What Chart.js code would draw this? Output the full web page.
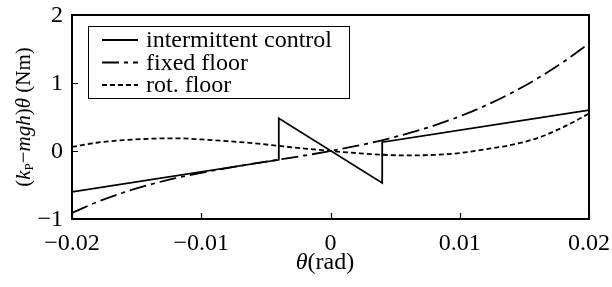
<!DOCTYPE html>
<html>
<head>
<meta charset="utf-8">
<script src="https://cdn.jsdelivr.net/npm/chart.js@4.4.1/dist/chart.umd.min.js"></script>
<style>
  html, body { margin: 0; padding: 0; background: #fff; }
  #wrap { width: 612px; height: 287px; }
</style>
</head>
<body>
<div id="wrap"><canvas id="chart" width="612" height="287"></canvas></div>
<script>
// values
const thetaGrid = [-0.020, -0.018, -0.016, -0.014, -0.012, -0.010, -0.008, -0.006, -0.004, -0.002,
  0, 0.002, 0.004, 0.006, 0.008, 0.010, 0.012, 0.014, 0.016, 0.018, 0.020];
const fixedFloor = [-0.91, -0.746, -0.609, -0.495, -0.40, -0.32, -0.251, -0.187, -0.127, -0.066,
  0, 0.074, 0.158, 0.258, 0.374, 0.51, 0.669, 0.853, 1.065, 1.307, 1.58];
const rotFloor = [0.06, 0.125, 0.16, 0.18, 0.187, 0.17, 0.145, 0.115, 0.075, 0.036,
  0, -0.03, -0.055, -0.065, -0.057, -0.03, 0.025, 0.09, 0.19, 0.35, 0.55];
const intermittentTheta = [-0.02, -0.004, -0.004, 0.004, 0.004, 0.02];
const intermittentVal = [-0.6, -0.13, 0.48, -0.47, 0.13, 0.6];

const seriesLabels = ["intermittent control", "fixed floor", "rot. floor"];
const xTicks = [-0.02, -0.01, 0, 0.01, 0.02];
const yTicks = [-1, 0, 1, 2];

const FONT = "Liberation Serif";
const FS = 24;

function pts(xs, ys) { return xs.map((x, i) => ({ x: x, y: ys[i] })); }

function fmt(v) {
  const r = Math.round(v * 100) / 100;
  return r < 0 ? "\u2212" + Math.abs(r) : String(r);
}

function setFont(ctx, italic, size) {
  ctx.font = (italic ? "italic " : "") + (size || FS) + "px '" + FONT + "'";
}

// draw a run of text parts with mixed styles, centred at (cx, cy)
function drawRich(ctx, parts, cx, cy, rot) {
  ctx.save();
  ctx.translate(cx, cy);
  ctx.rotate(rot);
  let total = 0;
  parts.forEach(p => {
    setFont(ctx, p.italic, p.size);
    p.w = ctx.measureText(p.t).width;
    total += p.w;
  });
  let x = -total / 2;
  ctx.textBaseline = "middle";
  ctx.textAlign = "left";
  ctx.fillStyle = "#000";
  parts.forEach(p => {
    setFont(ctx, p.italic, p.size);
    ctx.fillText(p.t, x, p.dy || 0);
    x += p.w;
  });
  ctx.restore();
}

const framePlugin = {
  id: "frame",
  afterDatasetsDraw(chart) {
    const { ctx, chartArea: a, scales: { x, y } } = chart;
    ctx.save();
    ctx.strokeStyle = "#000";
    ctx.lineWidth = 2;
    ctx.strokeRect(a.left, a.top, a.right - a.left, a.bottom - a.top);

    // inward ticks
    ctx.lineWidth = 1.2;
    ctx.beginPath();
    xTicks.forEach(v => {
      const px = Math.round(x.getPixelForValue(v)) + 0.5;
      ctx.moveTo(px, a.bottom);
      ctx.lineTo(px, a.bottom - 6);
    });
    yTicks.forEach(v => {
      const py = Math.round(y.getPixelForValue(v)) + 0.5;
      ctx.moveTo(a.left, py);
      ctx.lineTo(a.left + 6, py);
    });
    ctx.stroke();

    // tick labels
    ctx.fillStyle = "#000";
    setFont(ctx, false);
    ctx.textBaseline = "middle";
    ctx.textAlign = "center";
    xTicks.forEach(v => ctx.fillText(fmt(v), x.getPixelForValue(v), a.bottom + 25));
    ctx.textAlign = "right";
    yTicks.forEach(v => ctx.fillText(fmt(v), a.left - 9, y.getPixelForValue(v) + 1));

    // legend box
    ctx.lineWidth = 1;
    ctx.fillStyle = "#fff";
    ctx.fillRect(88, 26, 261, 72);
    ctx.strokeRect(88.5, 26.5, 261, 72);
    chart.data.datasets.forEach((ds, i) => {
      const ly = 40 + i * 22.5;
      ctx.beginPath();
      ctx.lineWidth = ds.borderWidth;
      ctx.setLineDash(ds.borderDash || []);
      ctx.moveTo(102, ly);
      ctx.lineTo(138, ly);
      ctx.stroke();
      ctx.setLineDash([]);
      ctx.fillStyle = "#000";
      setFont(ctx, false);
      ctx.textBaseline = "middle";
      ctx.textAlign = "left";
      ctx.fillText(ds.label, 146, ly + 1);
    });

    // axis titles
    drawRich(ctx, [
      { t: "\u03b8", italic: true },
      { t: "(rad)" }
    ], 325, 263, 0);
    drawRich(ctx, [
      { t: "(", size: 21 },
      { t: "k", italic: true, size: 21 },
      { t: "P", size: 13, dy: 6 },
      { t: "\u2212", size: 21 },
      { t: "mgh", italic: true, size: 21 },
      { t: ")", size: 21 },
      { t: "\u03b8", italic: true, size: 21 },
      { t: " (Nm)", size: 21 }
    ], 24, 117, -Math.PI / 2);
    ctx.restore();
  }
};

new Chart(document.getElementById("chart"), {
  type: "line",
  data: {
    datasets: [
      {
        label: seriesLabels[0],
        data: pts(intermittentTheta, intermittentVal),
        borderColor: "#000",
        borderWidth: 1.8,
        tension: 0
      },
      {
        label: seriesLabels[1],
        data: pts(thetaGrid, fixedFloor),
        borderColor: "#000",
        borderWidth: 1.8,
        borderDash: [17, 5, 4, 5],
        cubicInterpolationMode: "monotone"
      },
      {
        label: seriesLabels[2],
        data: pts(thetaGrid, rotFloor),
        borderColor: "#000",
        borderWidth: 1.8,
        borderDash: [5, 3],
        cubicInterpolationMode: "monotone"
      }
    ]
  },
  options: {
    responsive: false,
    animation: false,
    devicePixelRatio: 1,
    elements: { point: { radius: 0 } },
    layout: { padding: { left: 72, right: 23, top: 15, bottom: 68 } },
    plugins: { legend: { display: false }, tooltip: { enabled: false } },
    scales: {
      x: {
        type: "linear",
        min: -0.02,
        max: 0.02,
        afterFit: s => { s.height = 0; },
        grid: { display: false },
        border: { display: false },
        ticks: { display: false }
      },
      y: {
        min: -1,
        max: 2,
        afterFit: s => { s.width = 0; },
        grid: { display: false },
        border: { display: false },
        ticks: { display: false }
      }
    }
  },
  plugins: [framePlugin]
});
</script>
</body>
</html>
